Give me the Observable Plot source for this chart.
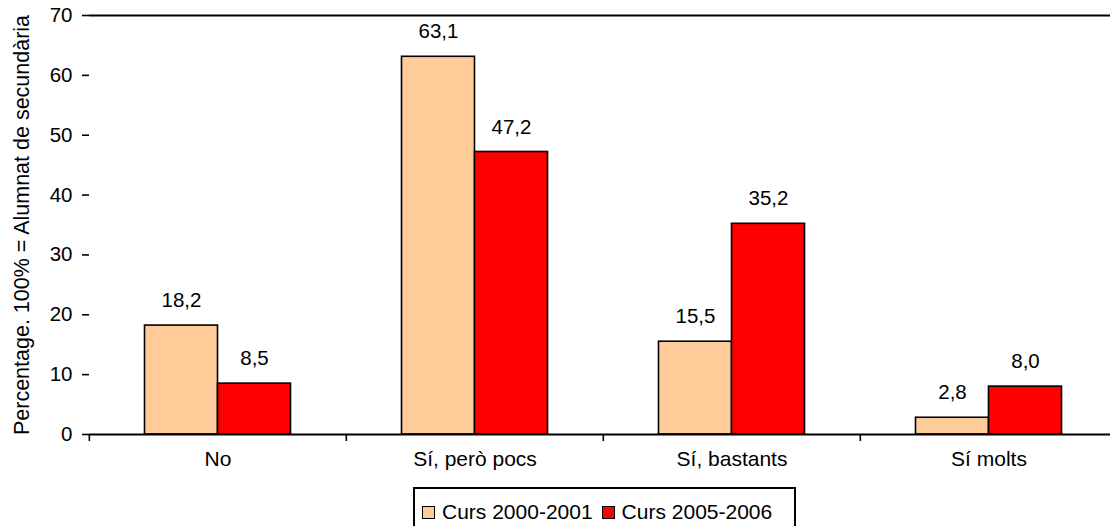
<!DOCTYPE html>
<html>
<head>
<meta charset="utf-8">
<script src="https://cdn.jsdelivr.net/npm/d3@7"></script>
<script src="https://cdn.jsdelivr.net/npm/@observablehq/plot@0.6"></script>
<style>
  html, body { margin: 0; padding: 0; background: #fff; overflow: hidden; width: 1110px; height: 526px; }
  #wrap { position: relative; width: 1110px; height: 526px; overflow: hidden; font-family: "Liberation Sans", Arial, sans-serif; }
  #chart { position: absolute; left: 0; top: 0; width: 1118px; }
  #chart svg { max-width: none !important; }
  #legend { position: absolute; left: 413px; top: 487px; width: 379px; height: 46px; border: 2px solid #000; box-sizing: content-box;
            display: flex; align-items: center; font-size: 21px; color: #000; }
  .item { display: flex; align-items: center; margin-left: 7px; margin-right: 2px; }
  .sw { width: 11px; height: 11px; border: 1.5px solid #000; margin-right: 7px; }
</style>
</head>
<body>
<div id="wrap">
  <div id="chart"></div>
  <div id="legend"></div>
</div>
<script>
const categories = ["No", "Sí, però pocs", "Sí, bastants", "Sí molts"];
const series = ["Curs 2000-2001", "Curs 2005-2006"];
const values2000 = [18.2, 63.1, 15.5, 2.8];
const values2005 = [8.5, 47.2, 35.2, 8.0];
const colors = ["#FFCC99", "#FF0000"];
const yTicks = [0, 10, 20, 30, 40, 50, 60, 70];
const yLabel = "Percentage. 100% = Alumnat de secundària";

const data = [];
categories.forEach((c, i) => {
  data.push({cat: c, series: series[0], value: values2000[i]});
  data.push({cat: c, series: series[1], value: values2005[i]});
});

const W = 1118, H = 480, mL = 88.5, mR = 0, mT = 15, mB = 46;
const band = (W - mL - mR) / categories.length;
const fmt = v => d3.format(".1f")(v).replace(".", ",");
const font = "Liberation Sans, Arial, sans-serif";

const chart = Plot.plot({
  width: W, height: H,
  marginLeft: mL, marginRight: mR, marginTop: mT, marginBottom: mB,
  style: {fontFamily: font, color: "#000", background: "#fff", overflow: "visible", maxWidth: "none"},
  fx: {domain: categories, paddingInner: 0, paddingOuter: 0, axis: null, label: null},
  x: {domain: series, paddingInner: 0, paddingOuter: 0.738, axis: null},
  y: {domain: [0, 70], axis: null},
  color: {domain: series, range: colors},
  marks: [
    Plot.barY(data, {fx: "cat", x: "series", y: "value", fill: "series", stroke: "#000", strokeWidth: 1.6}),
    Plot.text(data, {fx: "cat", x: "series", y: "value", text: d => fmt(d.value), dy: -25, fontSize: 20.5, fill: "#000"}),
    Plot.ruleY([70], {stroke: "#000", strokeWidth: 2}),
    Plot.ruleY([0], {stroke: "#000", strokeWidth: 2}),
    Plot.axisY({ticks: yTicks, tickSize: 7, tickPadding: 10, fontSize: 20.5, stroke: "#000", strokeWidth: 1.6,
      label: yLabel, labelAnchor: "center", labelArrow: "none", labelOffset: 76}),
    Plot.ruleX([0], {y1: 0, y2: 70, stroke: "#000", strokeWidth: 2, facet: "exclude"}),
    Plot.axisFx({anchor: "bottom", tickSize: 0, tickPadding: 17, fontSize: 21, label: null}),
    Plot.axisFx({anchor: "bottom", tickSize: 7, tickFormat: () => "", dx: -band / 2, stroke: "#000", strokeWidth: 1.6, label: null})
  ]
});
chart.querySelectorAll("g[aria-label='y-axis label'] text, g[aria-label='y-axis label']").forEach(el => el.style.fontSize = "21.5px");
document.getElementById("chart").appendChild(chart);

const legend = document.getElementById("legend");
series.forEach((s, i) => {
  const it = document.createElement("div");
  it.className = "item";
  const sw = document.createElement("div");
  sw.className = "sw";
  sw.style.background = colors[i];
  const t = document.createElement("span");
  t.textContent = s;
  it.appendChild(sw); it.appendChild(t);
  legend.appendChild(it);
});
</script>
</body>
</html>
